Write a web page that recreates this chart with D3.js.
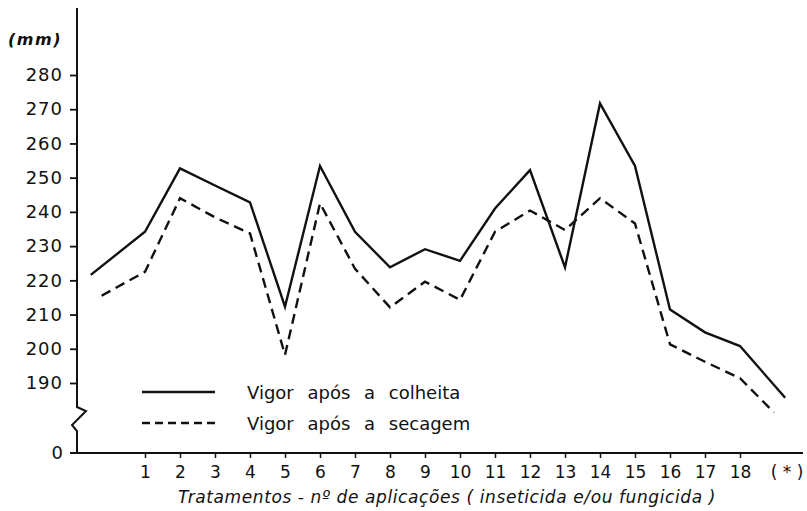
<!DOCTYPE html>
<html>
<head>
<meta charset="utf-8">
<script src="https://cdn.jsdelivr.net/npm/d3@7"></script>
<style>
  body { margin: 0; background: #fff; }
  text { font-family: "DejaVu Sans", sans-serif; fill: #111; }
</style>
</head>
<body>
<script>
//Data
    const tickLabels = ["1","2","3","4","5","6","7","8","9","10","11","12","13","14","15","16","17","18"];
    const yTicks = [190, 200, 210, 220, 230, 240, 250, 260, 270, 280];

    //x positions (treatment number); first point is the untreated start, last is (*)
    const colheitaX = [-0.55, 1, 2, 3, 4, 5, 6, 7, 8, 9, 10, 11, 12, 13, 14, 15, 16, 17, 18, 19.29];
    const colheita  = [221.6, 234.2, 252.7, 247.7, 242.8, 212.3, 253.4, 234.2, 223.8, 229.1, 225.7, 241.0, 252.2, 223.8, 271.7, 253.4, 211.5, 204.8, 200.8, 185.7];

    const secagemX = [-0.24, 1, 2, 3, 4, 5, 6, 7, 8, 9, 10, 11, 12, 13, 14, 15, 16, 17, 18, 18.97];
    const secagem  = [215.5, 222.5, 244.0, 238.4, 233.7, 198.2, 242.5, 223.4, 212.1, 219.6, 214.3, 234.2, 240.4, 234.7, 244.0, 236.6, 201.3, 196.2, 191.4, 181.4];

    const legendNames = ["Vigor após a colheita", "Vigor após a secagem"];

//Set up dimensions
    const width = 807;
    const height = 511;
    const axisX = 77;
    const baseY = 453;

//Scales
    const xScale = d3.scaleLinear()
                     .domain([1, 18])
                     .range([145, 740]);

    const yScale = d3.scaleLinear()
                     .domain([190, 280])
                     .range([383, 75]);

//SVG
    const svg = d3.select("body")
                  .append("svg")
                  .attr("width", width)
                  .attr("height", height);

//Lines
    const line = d3.line()
                   .x(d => xScale(d[0]))
                   .y(d => yScale(d[1]));

    svg.append("path")
       .datum(d3.zip(colheitaX, colheita))
       .attr("d", line)
       .attr("fill", "none")
       .attr("stroke", "#111")
       .attr("stroke-width", 2.4)
       .attr("stroke-linejoin", "miter");

    svg.append("path")
       .datum(d3.zip(secagemX, secagem))
       .attr("d", line)
       .attr("fill", "none")
       .attr("stroke", "#111")
       .attr("stroke-width", 2.4)
       .attr("stroke-dasharray", "10,6");

//Y axis (with break between 190 and 0)
    const leftAxis = d3.axisLeft(yScale)
                       .tickValues(yTicks)
                       .tickSize(7)
                       .tickPadding(7);

    const gy = svg.append("g")
                  .attr("transform", "translate(" + axisX + ",0)")
                  .call(leftAxis);
    gy.select(".domain").remove();
    gy.selectAll("line").attr("stroke", "#111").attr("stroke-width", 1.8);
    gy.selectAll("text")
      .style("font-size", "18px")
      .style("letter-spacing", "1px")
      .style("font-family", "DejaVu Sans");

    const brk = d3.path();
    brk.moveTo(axisX, 8);
    brk.lineTo(axisX, 407);
    brk.lineTo(axisX + 9, 411);
    brk.lineTo(axisX - 5, 425);
    brk.lineTo(axisX, 431);
    brk.lineTo(axisX, baseY);
    svg.append("path")
       .attr("d", brk.toString())
       .attr("fill", "none")
       .attr("stroke", "#111")
       .attr("stroke-width", 2);

    //zero tick
    svg.append("line")
       .attr("x1", axisX - 7).attr("x2", axisX)
       .attr("y1", baseY).attr("y2", baseY)
       .attr("stroke", "#111").attr("stroke-width", 1.8);
    svg.append("text")
       .attr("x", axisX - 14)
       .attr("y", baseY + 6)
       .attr("text-anchor", "end")
       .style("font-size", "18px")
       .text("0");

    svg.append("text")
       .attr("x", 8)
       .attr("y", 45)
       .style("font-size", "16px")
       .style("font-style", "italic")
       .style("font-weight", "bold")
       .style("letter-spacing", "1.5px")
       .text("(mm)");

//X axis
    const bottomAxis = d3.axisBottom(xScale)
                         .tickValues(d3.range(1, 19))
                         .tickFormat((d, i) => tickLabels[i])
                         .tickSize(5)
                         .tickPadding(8);

    const gx = svg.append("g")
                  .attr("transform", "translate(0," + baseY + ")")
                  .call(bottomAxis);
    gx.select(".domain").remove();
    gx.selectAll("line").attr("stroke", "#111").attr("stroke-width", 1.5);
    gx.selectAll("text")
      .style("font-size", "17px")
      .style("font-family", "DejaVu Sans");

    svg.append("line")
       .attr("x1", axisX - 7).attr("x2", 803)
       .attr("y1", baseY).attr("y2", baseY)
       .attr("stroke", "#111").attr("stroke-width", 1.8);

    svg.append("text")
       .attr("x", 787)
       .attr("y", 478)
       .attr("text-anchor", "middle")
       .style("font-size", "17px")
       .text("( * )");

    svg.append("text")
       .attr("x", 447)
       .attr("y", 503)
       .attr("text-anchor", "middle")
       .style("font-size", "17px")
       .style("font-style", "italic")
       .style("letter-spacing", "0.6px")
       .text("Tratamentos - nº de aplicações ( inseticida e/ou fungicida )");

//Legend
    const legend = svg.selectAll(".legend")
                      .data(legendNames)
                      .enter()
                      .append("g")
                      .attr("class", "legend")
                      .attr("transform", (d, i) => "translate(142," + (392 + i * 31) + ")");

    legend.append("line")
          .attr("x1", 0).attr("x2", 73)
          .attr("y1", 0).attr("y2", 0)
          .attr("stroke", "#111")
          .attr("stroke-width", 2.4)
          .attr("stroke-dasharray", (d, i) => i === 0 ? null : "8,5");

    legend.append("text")
          .attr("x", 105)
          .attr("y", 7)
          .style("font-size", "18px")
          .style("word-spacing", "8px")
          .text(d => d);
</script>
</body>
</html>
